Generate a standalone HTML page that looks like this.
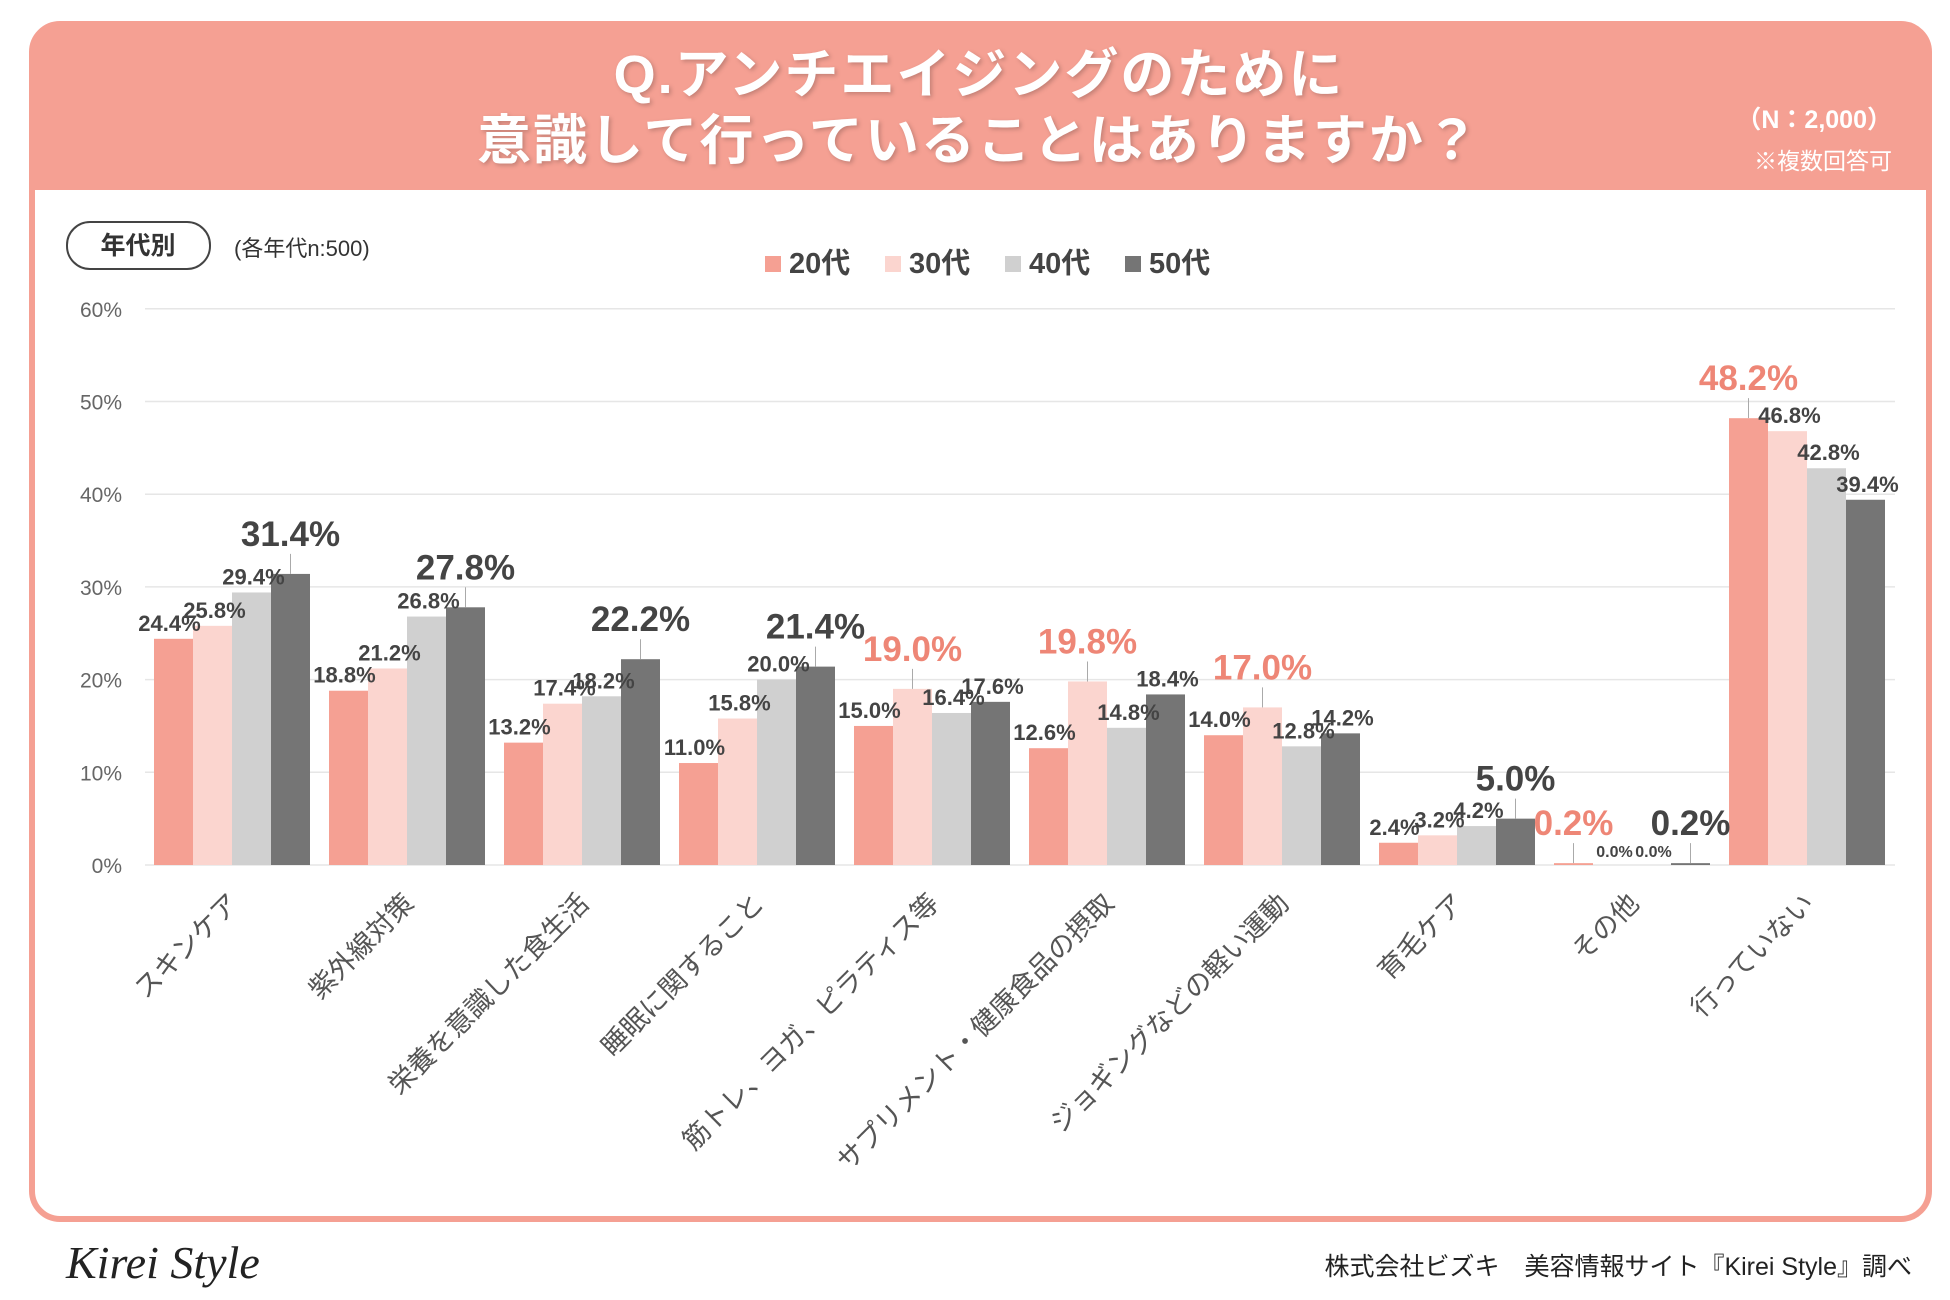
<!DOCTYPE html>
<html><head><meta charset="utf-8"><style>
body{margin:0;width:1950px;height:1300px;background:#fff;overflow:hidden;font-family:"Liberation Sans","Noto Sans CJK JP",sans-serif}
</style></head><body>
<svg id="c" width="1950" height="1300" xmlns="http://www.w3.org/2000/svg" style="position:absolute;left:0;top:0">
<rect x="32" y="24" width="1897" height="1195" rx="28" fill="#fff" stroke="#f5a093" stroke-width="6"/>
<path d="M32,190 L32,52 Q32,24 60,24 L1901,24 Q1929,24 1929,52 L1929,190 Z" fill="#f5a093"/>
<g font-family="Liberation Sans, Noto Sans CJK JP, sans-serif" font-weight="bold" fill="#fff" text-anchor="middle" font-size="54" letter-spacing="2" style="filter:drop-shadow(2px 2px 2px rgba(0,0,0,0.2))">
<text x="979" y="93">Q.アンチエイジングのために</text>
<text x="979" y="159">意識して行っていることはありますか？</text>
</g>
<text x="1892" y="128" text-anchor="end" font-size="25" font-weight="bold" fill="#fff">（N：2,000）</text>
<text x="1892" y="169" text-anchor="end" font-size="23" fill="#fff">※複数回答可</text>
<rect x="67" y="222" width="143" height="47" rx="23" fill="#fff" stroke="#444" stroke-width="2"/>
<text x="138" y="254" text-anchor="middle" font-size="25" font-weight="bold" fill="#333">年代別</text>
<text x="234" y="256" font-size="22" fill="#333">(各年代n:500)</text>
<g id="legend"></g>
<g id="grid"></g><g id="bars"></g><g id="labels"></g><g id="cats"></g>
<text x="66" y="1278" font-family="Liberation Serif, serif" font-style="italic" font-size="46" fill="#222">Kirei Style</text>
<text x="1912" y="1275" text-anchor="end" font-size="25" fill="#222">株式会社ビズキ　美容情報サイト『Kirei Style』調べ</text>
</svg>
<script>
const categories=["スキンケア","紫外線対策","栄養を意識した食生活","睡眠に関すること","筋トレ、ヨガ、ピラティス等","サプリメント・健康食品の摂取","ジョギングなどの軽い運動","育毛ケア","その他","行っていない"];
const seriesNames=["20代","30代","40代","50代"];
const s20=[24.4,18.8,13.2,11.0,15.0,12.6,14.0,2.4,0.2,48.2];
const s30=[25.8,21.2,17.4,15.8,19.0,19.8,17.0,3.2,0.0,46.8];
const s40=[29.4,26.8,18.2,20.0,16.4,14.8,12.8,4.2,0.0,42.8];
const s50=[31.4,27.8,22.2,21.4,17.6,18.4,14.2,5.0,0.2,39.4];
const yTicks=[0,10,20,30,40,50,60];
const series=[s20,s30,s40,s50];
const colors=["#f5a093","#fbd5cf","#d0d0d0","#757575"];
const NS="http://www.w3.org/2000/svg";
const X0=145,BAND=175,BW=39,Y0=865,PER=92.7/10;
const y=v=>Y0-v*PER;
const bx=(i,s)=>X0+9+i*BAND+s*BW;
function mk(t,a,p){const e=document.createElementNS(NS,t);for(const k in a)e.setAttribute(k,a[k]);p.appendChild(e);return e;}
const grid=document.getElementById('grid');
yTicks.forEach(t=>{
 const l=mk('line',{x1:X0,x2:1895,y1:y(t),y2:y(t),stroke:'#e6e6e6','stroke-width':1.5},grid);
 
 
 const tx=mk('text',{x:122,y:y(t)+8,'text-anchor':'end','font-size':21,fill:'#666'},grid);
 tx.textContent=t+'%';
 
 
});
const lg=document.getElementById('legend');
const lx=[765,885,1005,1125];
seriesNames.forEach((n,s)=>{
 const r=mk('rect',{x:lx[s],y:256,width:16,height:16,fill:colors[s]},lg);
 
 
 const t=mk('text',{x:lx[s]+24,y:273,'font-size':29,'font-weight':'bold',fill:'#444'},lg);
 t.textContent=n;
 
 
});
const bars=document.getElementById('bars'),labels=document.getElementById('labels'),cats=document.getElementById('cats');
categories.forEach((c,i)=>{
 const vals=series.map(a=>a[i]);const mx=Math.max(...vals);
 series.forEach((a,s)=>{
  const v=a[i];
  const r=mk('rect',{x:bx(i,s),y:y(v),width:BW,height:Math.max(Y0-y(v),v>0?1.5:0),fill:colors[s]},bars);
  
  
  const hi=v===mx&&v>0;
  const cx=bx(i,s)+BW/2;
  let t;
  if(hi){
   mk('line',{x1:cx,x2:cx,y1:y(v),y2:y(v)-20,stroke:'#aaa','stroke-width':1},labels);
   t=mk('text',{x:cx,y:y(v)-28,'text-anchor':'middle','font-size':35,'font-weight':'bold',fill:s<2?'#ee8676':'#444'},labels);
  }else{
   t=mk('text',{x:cx-(s===0?4:-2),y:y(v)-8,'text-anchor':'middle','font-size':v===0?16:22,'font-weight':'bold',fill:'#444'},labels);
  }
  t.textContent=v.toFixed(1)+'%';
  
  
 });
 const ccx=X0+i*BAND+BAND/2+8;
 const ct=mk('text',{x:0,y:0,'text-anchor':'end','font-size':27,fill:'#555',transform:`translate(${ccx},${Y0+40}) rotate(-45)`},cats);
 ct.textContent=c;
 
 
});
</script>
</body></html>
